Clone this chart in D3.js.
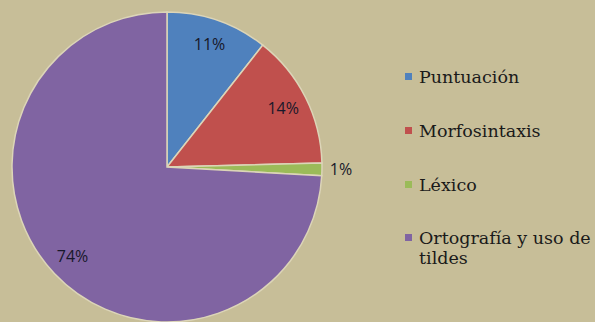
<!DOCTYPE html>
<html>
<head>
<meta charset="utf-8">
<script src="https://cdn.jsdelivr.net/npm/d3@7"></script>
<style>
  body { margin: 0; background: #c7be98; }
</style>
</head>
<body>
<script>
const width = 595;
const height = 322;

const categories = ['Puntuación', 'Morfosintaxis', 'Léxico', 'Ortografía y uso de tildes'];
const values = [10.6, 14.0, 1.3, 74.1];
const pctLabels = ['11%', '14%', '1%', '74%'];
const colors = ['#4f81bd', '#c0504d', '#9bbb59', '#8064a2'];

const svg = d3.create('svg')
  .attr('width', width)
  .attr('height', height)
  .style('background-color', '#c7be98');

document.body.appendChild(svg.node());

const cx = 167, cy = 167, radius = 155;

const pie = d3.pie().sort(null).value(d => d.value);
const arc = d3.arc().innerRadius(0).outerRadius(radius);
const labelArc = d3.arc().innerRadius(130).outerRadius(130);
const outerLabelArc = d3.arc().innerRadius(174).outerRadius(174);

const data = categories.map((c, i) => ({ name: c, value: values[i], label: pctLabels[i], color: colors[i] }));
const arcs = pie(data);

const g = svg.append('g')
  .attr('transform', `translate(${cx},${cy})`);

g.selectAll('path')
  .data(arcs)
  .enter()
  .append('path')
  .attr('d', arc)
  .attr('fill', d => d.data.color)
  .attr('stroke', '#dcd5b8')
  .attr('stroke-width', 1.5);

// small slices get their label outside
g.selectAll('.pct')
  .data(arcs)
  .enter()
  .append('text')
  .attr('class', 'pct')
  .attr('transform', d => {
    const a = (d.endAngle - d.startAngle) < 0.2 ? outerLabelArc : labelArc;
    return `translate(${a.centroid(d)})`;
  })
  .attr('text-anchor', 'middle')
  .attr('dy', '0.35em')
  .attr('font-family', 'Open Sans, sans-serif')
  .attr('font-size', 16)
  .attr('fill', '#18182a')
  .text(d => d.data.label);

// legend
const legendY = [77, 131, 185, 238];
const legend = svg.append('g');

const rows = legend.selectAll('g')
  .data(data)
  .enter()
  .append('g')
  .attr('transform', (d, i) => `translate(405,${legendY[i]})`);

rows.append('rect')
  .attr('x', 0)
  .attr('y', -4)
  .attr('width', 7)
  .attr('height', 7)
  .attr('fill', d => d.color);

rows.append('text')
  .attr('x', 14)
  .attr('font-family', 'DejaVu Serif, serif')
  .attr('font-size', 17.5)
  .attr('fill', '#1a1a1a')
  .each(function (d) {
    const t = d3.select(this);
    const parts = d.name === 'Ortografía y uso de tildes' ? ['Ortografía y uso de', 'tildes'] : [d.name];
    parts.forEach((p, j) => {
      t.append('tspan')
        .attr('x', 14)
        .attr('dy', j === 0 ? '0.35em' : 20)
        .text(p);
    });
  });
</script>
</body>
</html>
